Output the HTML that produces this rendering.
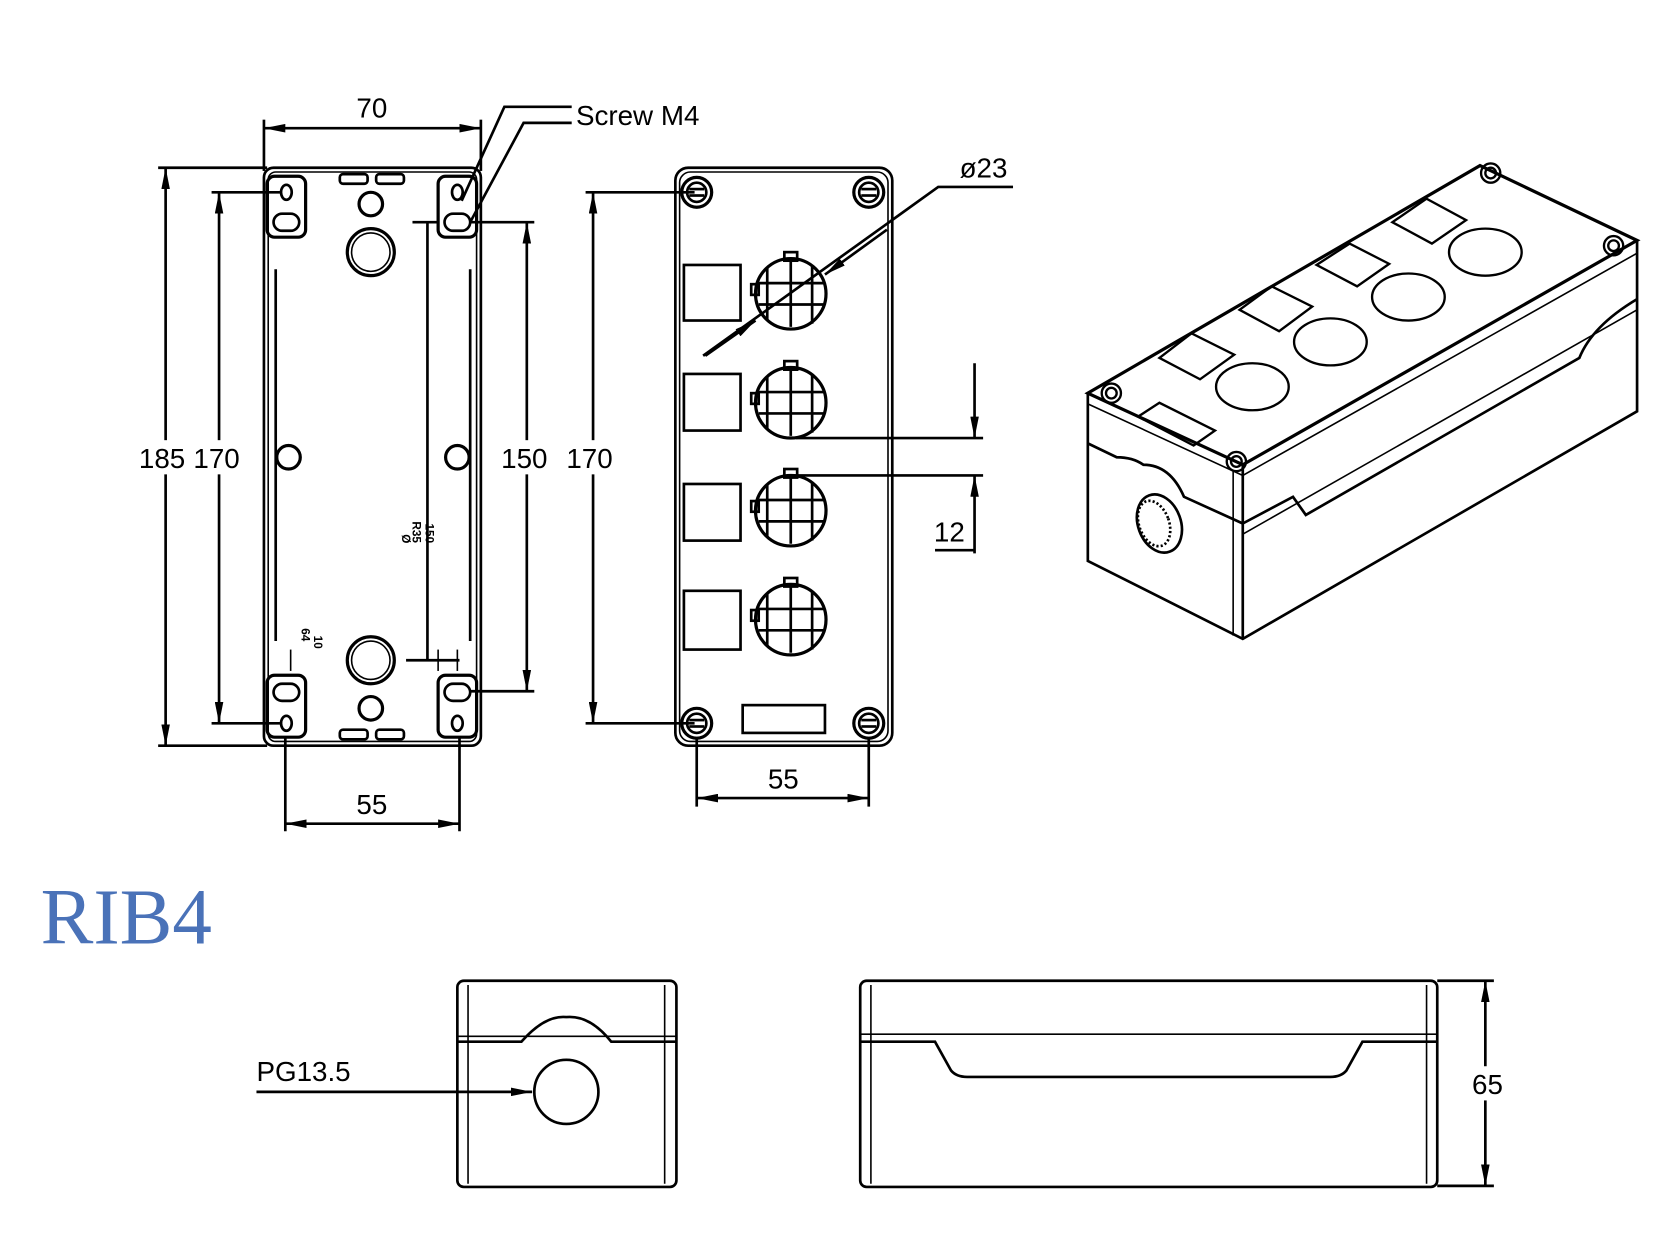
<!DOCTYPE html>
<html><head><meta charset="utf-8"><style>html,body{margin:0;padding:0;background:#fff}svg{display:block}</style></head>
<body>
<svg width="1667" height="1250" viewBox="0 0 1560 1170" preserveAspectRatio="none" xmlns="http://www.w3.org/2000/svg">
<defs>
<marker id="a" viewBox="0 0 20 8" refX="20" refY="4" markerWidth="20" markerHeight="8" markerUnits="userSpaceOnUse" orient="auto-start-reverse"><path d="M0,0 L20,4 L0,8 Z" fill="#000"/></marker>
</defs>
<g fill="none" stroke="#000" stroke-width="2.5">
<!-- LEFT VIEW -->
<rect x="247" y="157" width="203" height="541" rx="9"/>
<rect x="251" y="161" width="195" height="533" rx="7" stroke-width="1.5"/>
<line x1="258" y1="252" x2="258" y2="600"/><line x1="440" y1="252" x2="440" y2="600"/>
<rect x="250" y="165" width="36" height="57" rx="7" stroke-width="3"/>
<rect x="410" y="165" width="36" height="57" rx="7" stroke-width="3"/>
<rect x="250" y="632" width="36" height="58" rx="7" stroke-width="3"/>
<rect x="410" y="632" width="36" height="58" rx="7" stroke-width="3"/>
<ellipse cx="268" cy="180" rx="5" ry="7"/><ellipse cx="428" cy="180" rx="5" ry="7"/>
<rect x="256" y="200" width="24" height="16" rx="8"/><rect x="416" y="200" width="24" height="16" rx="8"/>
<rect x="256" y="640" width="24" height="16" rx="8"/><rect x="416" y="640" width="24" height="16" rx="8"/>
<ellipse cx="268" cy="677" rx="5" ry="7"/><ellipse cx="428" cy="677" rx="5" ry="7"/>
<rect x="318" y="163" width="26" height="9" rx="3"/><rect x="352" y="163" width="26" height="9" rx="3"/>
<rect x="318" y="683" width="26" height="9" rx="3"/><rect x="352" y="683" width="26" height="9" rx="3"/>
<circle cx="347" cy="191" r="11" stroke-width="3"/>
<circle cx="347" cy="236" r="22" stroke-width="3"/><circle cx="347" cy="236" r="18" stroke-width="1.5"/>
<circle cx="270" cy="428" r="11" stroke-width="3"/><circle cx="428" cy="428" r="11" stroke-width="3"/>
<circle cx="347" cy="618" r="22" stroke-width="3"/><circle cx="347" cy="618" r="18" stroke-width="1.5"/>
<circle cx="347" cy="663" r="11" stroke-width="3"/>
<!-- dims left -->
<line x1="247" y1="112" x2="247" y2="160"/><line x1="450" y1="112" x2="450" y2="160"/>
<line x1="247" y1="120" x2="450" y2="120" marker-start="url(#a)" marker-end="url(#a)"/>
<polyline points="432,188 472,100 535,100"/><polyline points="440,208 490,115 535,115"/>
<line x1="148" y1="157" x2="250" y2="157"/><line x1="148" y1="698" x2="250" y2="698"/>
<line x1="155" y1="157" x2="155" y2="698" marker-start="url(#a)" marker-end="url(#a)"/>
<line x1="198" y1="180" x2="262" y2="180"/><line x1="198" y1="677" x2="262" y2="677"/>
<line x1="205" y1="180" x2="205" y2="677" marker-start="url(#a)" marker-end="url(#a)"/>
<line x1="440" y1="208" x2="500" y2="208"/><line x1="440" y1="647" x2="500" y2="647"/>
<line x1="493" y1="208" x2="493" y2="647" marker-start="url(#a)" marker-end="url(#a)"/>
<line x1="386" y1="208" x2="410" y2="208"/><line x1="400" y1="208" x2="400" y2="618"/>
<line x1="380" y1="618" x2="430" y2="618"/><line x1="410" y1="608" x2="410" y2="628" stroke-width="1.5"/><line x1="428" y1="608" x2="428" y2="628" stroke-width="1.5"/>
<line x1="272" y1="608" x2="272" y2="628" stroke-width="1.5"/>
<line x1="267" y1="690" x2="267" y2="778"/><line x1="430" y1="690" x2="430" y2="778"/>
<line x1="267" y1="771" x2="430" y2="771" marker-start="url(#a)" marker-end="url(#a)"/>
<!-- MIDDLE VIEW -->
<rect x="632" y="157" width="203" height="541" rx="12"/>
<rect x="636" y="161" width="195" height="533" rx="10" stroke-width="1.5"/>
<g id="sc">
<circle cx="652" cy="180" r="14" stroke-width="3"/><circle cx="652" cy="180" r="9"/><line x1="645" y1="177" x2="659" y2="177"/><line x1="645" y1="183" x2="659" y2="183"/>
</g>
<use href="#sc" x="161"/><use href="#sc" y="497"/><use href="#sc" x="161" y="497"/>
<rect x="640" y="248" width="53" height="52"/><rect x="640" y="350" width="53" height="53"/>
<rect x="640" y="453" width="53" height="53"/><rect x="640" y="553" width="53" height="55"/>
<g id="bh">
<circle cx="740" cy="275" r="33" stroke-width="3"/>
<line x1="740" y1="244" x2="740" y2="306"/><line x1="760" y1="248" x2="760" y2="303"/><line x1="718" y1="250" x2="718" y2="300"/>
<line x1="710" y1="265" x2="772" y2="265"/><line x1="710" y1="285" x2="772" y2="285"/>
<rect x="734" y="236" width="12" height="8"/><rect x="703" y="266" width="7" height="10"/>
</g>
<use href="#bh" y="102"/><use href="#bh" y="203"/><use href="#bh" y="305"/>
<rect x="695" y="660" width="77" height="26"/>
<line x1="548" y1="180" x2="650" y2="180"/><line x1="548" y1="677" x2="650" y2="677"/>
<line x1="555" y1="180" x2="555" y2="677" marker-start="url(#a)" marker-end="url(#a)"/>
<line x1="652" y1="690" x2="652" y2="755"/><line x1="813" y1="690" x2="813" y2="755"/>
<line x1="652" y1="747" x2="813" y2="747" marker-start="url(#a)" marker-end="url(#a)"/>
<polyline points="658,333 878,175 948,175"/>
<line x1="830" y1="215" x2="772" y2="257" marker-end="url(#a)"/>
<line x1="660" y1="333" x2="707" y2="300" marker-end="url(#a)"/>
<line x1="745" y1="410" x2="920" y2="410"/><line x1="740" y1="445" x2="920" y2="445"/>
<line x1="912" y1="340" x2="912" y2="410" marker-end="url(#a)"/>
<line x1="912" y1="518" x2="912" y2="445" marker-end="url(#a)"/>
<line x1="875" y1="515" x2="912" y2="515"/>
<!-- ISO VIEW -->
<path d="M1018,368 L1385,155 L1532,225 L1163,435 Z" stroke-width="3"/>
<path d="M1018,368 L1018,525 L1163,598 L1532,385 L1532,225"/>
<line x1="1163" y1="435" x2="1163" y2="598"/><line x1="1154" y1="440" x2="1154" y2="595" stroke-width="1.5"/>
<path d="M1018,378 L1163,445 L1532,237" stroke-width="1.5"/>
<path d="M1018,415 L1045,428 Q1060,428 1070,435 Q1095,435 1108,465 L1163,490"/>
<path d="M1163,490 L1210,465 L1222,482 L1478,335 Q1490,305 1532,280"/>
<path d="M1163,500 L1532,290" stroke-width="1.5"/>
<ellipse cx="1085" cy="490" rx="20" ry="28" transform="rotate(-20 1085 490)"/>
<ellipse cx="1080" cy="490" rx="14" ry="22" transform="rotate(-20 1080 490)" stroke-dasharray="2 2"/>
<g stroke-width="2.2">
<ellipse cx="1172" cy="362" rx="34" ry="22"/><ellipse cx="1245" cy="320" rx="34" ry="22"/>
<ellipse cx="1318" cy="278" rx="34" ry="22"/><ellipse cx="1390" cy="236" rx="34" ry="22"/>
<path d="M1085,335 L1115,312 L1155,332 L1123,355 Z"/>
<path d="M1160,290 L1190,268 L1228,287 L1197,310 Z"/>
<path d="M1232,248 L1263,228 L1300,247 L1270,268 Z"/>
<path d="M1303,208 L1335,186 L1372,206 L1340,228 Z"/>
<path d="M1065,390 L1085,377 L1137,403 L1117,417 Z"/>
<circle cx="1040" cy="368" r="9"/><circle cx="1040" cy="368" r="5"/>
<circle cx="1157" cy="432" r="9"/><circle cx="1157" cy="432" r="5"/>
<circle cx="1395" cy="162" r="9"/><circle cx="1395" cy="162" r="5"/>
<circle cx="1510" cy="230" r="9"/><circle cx="1510" cy="230" r="5"/>
</g>
<!-- BOTTOM SIDE VIEW -->
<rect x="428" y="918" width="205" height="193" rx="6"/>
<line x1="438" y1="922" x2="438" y2="1108" stroke-width="1.5"/><line x1="622" y1="922" x2="622" y2="1108" stroke-width="1.5"/>
<path d="M428,975 L488,975 Q510,950 530,952 Q552,950 572,975 L633,975"/>
<path d="M428,970 L633,970" stroke-width="1.5"/>
<ellipse cx="530" cy="1022" rx="30" ry="30"/>
<line x1="240" y1="1022" x2="498" y2="1022" marker-end="url(#a)"/>
<!-- LONG VIEW -->
<rect x="805" y="918" width="540" height="193" rx="6"/>
<line x1="815" y1="922" x2="815" y2="1108" stroke-width="1.5"/><line x1="1335" y1="922" x2="1335" y2="1108" stroke-width="1.5"/>
<path d="M805,975 L875,975 L890,1002 Q895,1008 905,1008 L1245,1008 Q1255,1008 1260,1002 L1275,975 L1345,975"/>
<line x1="805" y1="968" x2="1345" y2="968" stroke-width="1.5"/>
<line x1="1345" y1="918" x2="1398" y2="918"/><line x1="1345" y1="1110" x2="1398" y2="1110"/>
<line x1="1390" y1="918" x2="1390" y2="1110" marker-start="url(#a)" marker-end="url(#a)"/>
</g>
<g font-family="Liberation Sans, sans-serif" font-size="26" fill="#000">
<text x="348" y="110" text-anchor="middle">70</text>
<text x="539" y="117">Screw M4</text>
<rect x="128" y="412" width="104" height="32" fill="#fff"/>
<text x="130" y="438">185</text><text x="181" y="438">170</text>
<rect x="468" y="412" width="48" height="32" fill="#fff"/>
<text x="469" y="438">150</text>
<rect x="528" y="412" width="52" height="32" fill="#fff"/>
<text x="530" y="438">170</text>
<text x="348" y="762" text-anchor="middle">55</text>
<text x="733" y="738" text-anchor="middle">55</text>
<text x="898" y="166">ø23</text>
<text x="874" y="507">12</text>
<text x="240" y="1012">PG13.5</text>
<rect x="1376" y="998" width="32" height="32" fill="#fff"/>
<text x="1392" y="1024" text-anchor="middle">65</text>
<g font-size="11" font-weight="bold"><text transform="translate(398,490) rotate(90)">150</text><text transform="translate(386,488) rotate(90)">R35</text><text transform="translate(376,500) rotate(90)">Ø</text>
<text transform="translate(282,588) rotate(90)">64</text><text transform="translate(294,595) rotate(90)">10</text></g>
</g>
<text x="38" y="883" font-family="Liberation Serif, serif" font-size="74" fill="#4a72b8">RIB4</text>
</svg>
</body></html>
